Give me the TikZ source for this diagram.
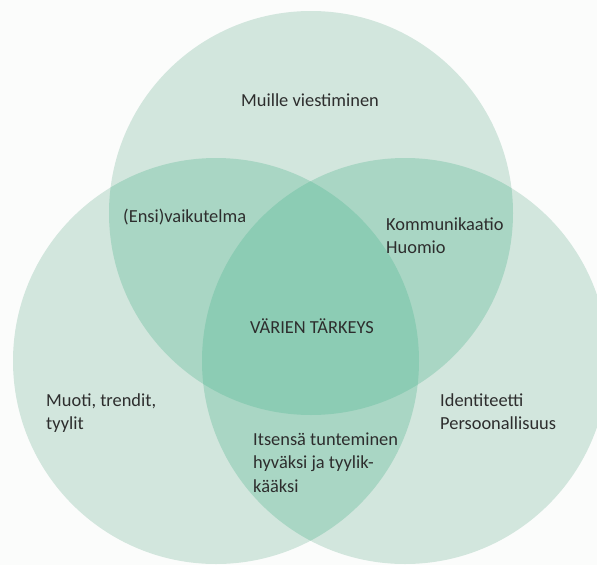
\documentclass[tikz,border=0pt]{standalone}
\usepackage{fontspec}
\setmainfont{Carlito}
\definecolor{paper}{RGB}{251,252,251}
\definecolor{oneset}{RGB}{210,230,221}
\definecolor{twoset}{RGB}{169,214,196}
\definecolor{threeset}{RGB}{140,204,180}
\definecolor{ink}{RGB}{45,45,45}
\begin{document}
\begin{tikzpicture}[x=1pt,y=-1pt,
  % multi-line labels are anchored on the baseline of their last line
  lbl/.style={anchor=base west, inner sep=0pt, align=left, text=ink,
    font=\fontsize{18.4}{23.5}\selectfont},
  ctr/.style={anchor=base, inner sep=0pt, text=ink,
    font=\fontsize{18.4}{23.5}\selectfont}]
  % canvas
  \fill[paper] (0,0) rectangle (597,565);
  \useasboundingbox (0,0) rectangle (597,565);
  \clip (0,0) rectangle (597,565);

  % circle centres
  \coordinate (T) at (311,213);
  \coordinate (L) at (216,361);
  \coordinate (R) at (405,361);

  % single sets
  \fill[oneset] (T) circle (202pt);
  \fill[oneset] (L) circle (203pt);
  \fill[oneset] (R) circle (203pt);
  % pairwise overlaps
  \begin{scope}
    \clip (T) circle (202pt);
    \fill[twoset] (L) circle (203pt);
    \fill[twoset] (R) circle (203pt);
  \end{scope}
  \begin{scope}
    \clip (L) circle (203pt);
    \fill[twoset] (R) circle (203pt);
  \end{scope}
  % common core
  \begin{scope}
    \clip (T) circle (202pt);
    \clip (L) circle (203pt);
    \fill[threeset] (R) circle (203pt);
  \end{scope}

  % labels
  \node[lbl] (top) at (241,106) {Muille viestiminen};
  \node[lbl] (tl) at (123,222) {(Ensi)vaikutelma};
  \node[lbl] (tr) at (386,253.5) {Kommunikaatio\\Huomio};
  \node[ctr] (core) at (312,333) {VÄRIEN TÄRKEYS};
  \node[lbl] (left) at (46,429.5) {Muoti, trendit,\\tyylit};
  \node[lbl] (right) at (440,429.5) {Identiteetti\\Persoonallisuus};
  \node[lbl] (bottom) at (253,492) {Itsensä tunteminen\\hyväksi ja tyylik-\\kääksi};
\end{tikzpicture}
\end{document}
